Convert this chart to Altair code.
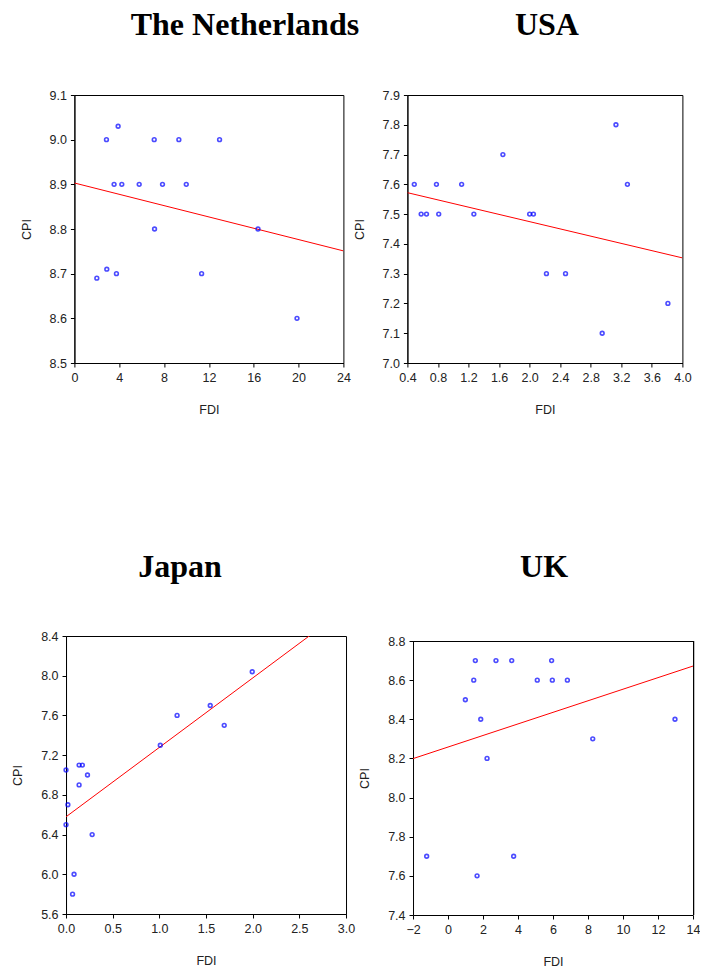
import altair as alt
import pandas as pd

# ---------------- data ----------------
nl_fdi = [2.86, 3.9, 7.12, 9.32, 12.95, 3.54, 4.23, 5.78, 7.86, 9.98, 7.15, 16.38, 2.0, 2.89, 3.75, 11.35, 19.86]
nl_cpi = [9.00, 9.03, 9.00, 9.00, 9.00, 8.90, 8.90, 8.90, 8.90, 8.90, 8.80, 8.80, 8.69, 8.71, 8.70, 8.70, 8.60]
nl_fit_fdi = [0, 24]
nl_fit_cpi = [8.903, 8.751]

us_fdi = [0.49, 0.58, 0.65, 0.78, 0.81, 1.11, 1.27, 1.65, 2.00, 2.05, 2.22, 2.47, 2.95, 3.13, 3.28, 3.81]
us_cpi = [7.6, 7.5, 7.5, 7.6, 7.5, 7.6, 7.5, 7.7, 7.5, 7.5, 7.3, 7.3, 7.1, 7.8, 7.6, 7.2]
us_fit_fdi = [0.4, 4.0]
us_fit_cpi = [7.572, 7.353]

jp_fdi = [0.0, 0.02, 0.0, 0.14, 0.175, 0.14, 0.23, 0.28, 0.086, 0.07, 1.01, 1.19, 1.545, 1.695, 1.995]
jp_cpi = [7.05, 6.70, 6.50, 7.10, 7.10, 6.90, 7.00, 6.40, 6.00, 5.80, 7.30, 7.60, 7.70, 7.50, 8.04]
jp_fit_fdi = [0.0, 3.0]
jp_fit_cpi = [6.579, 8.676]

uk_fdi = [-1.22, 0.99, 1.47, 1.56, 1.87, 1.66, 2.23, 2.74, 3.64, 3.75, 5.10, 5.92, 5.96, 6.82, 8.27, 12.97]
uk_cpi = [7.7, 8.5, 8.6, 8.7, 8.4, 7.6, 8.2, 8.7, 8.7, 7.7, 8.6, 8.7, 8.6, 8.6, 8.3, 8.4]
uk_fit_fdi = [-2, 14]
uk_fit_cpi = [8.199, 8.672]

nl_xticks = [0, 4, 8, 12, 16, 20, 24]
nl_yticks = [8.5, 8.6, 8.7, 8.8, 8.9, 9.0, 9.1]
us_xticks = [0.4, 0.8, 1.2, 1.6, 2.0, 2.4, 2.8, 3.2, 3.6, 4.0]
us_yticks = [7.0, 7.1, 7.2, 7.3, 7.4, 7.5, 7.6, 7.7, 7.8, 7.9]
jp_xticks = [0.0, 0.5, 1.0, 1.5, 2.0, 2.5, 3.0]
jp_yticks = [5.6, 6.0, 6.4, 6.8, 7.2, 7.6, 8.0, 8.4]
uk_xticks = [-2, 0, 2, 4, 6, 8, 10, 12, 14]
uk_yticks = [7.4, 7.6, 7.8, 8.0, 8.2, 8.4, 8.6, 8.8]

LABEL_FONT = "Liberation Sans"
TITLE_FONT = "Liberation Serif"
TEXT_COLOR = "#222222"


def panel(title, fdi, cpi, fit_x, fit_y, xticks, xfmt, yticks, w, h, dx, offset, top_gap=0):
    pts = pd.DataFrame({"FDI": fdi, "CPI": cpi})
    fit = pd.DataFrame({"FDI": fit_x, "CPI": fit_y})
    xs = alt.Scale(domain=[xticks[0], xticks[-1]], nice=False, zero=False)
    if top_gap:
        ys = alt.Scale(domain=[yticks[0], yticks[-1]], nice=False, zero=False, range=[h, top_gap])
    else:
        ys = alt.Scale(domain=[yticks[0], yticks[-1]], nice=False, zero=False)
    xax = alt.Axis(values=xticks, tickCount=len(xticks), format=xfmt, title="FDI",
                   titlePadding=20, labelOverlap=False)
    yax = alt.Axis(values=yticks, tickCount=len(yticks), format=".1f", title="CPI",
                   titlePadding=16, labelOverlap=False)
    points = alt.Chart(pts).mark_point(
        shape="circle", filled=False, color="#0000FF", size=14, strokeWidth=1.6
    ).encode(x=alt.X("FDI:Q", scale=xs, axis=xax), y=alt.Y("CPI:Q", scale=ys, axis=yax))
    line = alt.Chart(fit).mark_line(color="#FF0000", strokeWidth=1, clip=True).encode(
        x=alt.X("FDI:Q", scale=xs), y=alt.Y("CPI:Q", scale=ys)
    )
    layers = [line, points]
    props = dict(
        width=w,
        height=h,
        title=alt.TitleParams(
            title, font=TITLE_FONT, fontSize=32, fontWeight="bold", color="black",
            anchor="middle", frame="group", dx=dx, offset=offset, baseline="alphabetic",
        ),
    )
    if top_gap:
        # plot box edges drawn at the data extent (top edge and right edge)
        top_rule = alt.Chart(pts).mark_rule(color="black", strokeWidth=1, yOffset=0.5).encode(
            y=alt.Y(datum=yticks[-1], scale=ys),
            x=alt.X(datum=xticks[0], scale=xs),
            x2=alt.datum(xticks[-1]),
        )
        right_rule = alt.Chart(pts).mark_rule(color="black", strokeWidth=1, xOffset=0.5).encode(
            x=alt.X(datum=xticks[-1], scale=xs),
            y=alt.Y(datum=yticks[0], scale=ys),
            y2=alt.datum(yticks[-1]),
        )
        layers = [top_rule, right_rule, line, points]
        props["view"] = alt.ViewBackground(strokeOpacity=0)
    return alt.layer(*layers).properties(**props)


nl = panel("The Netherlands", nl_fdi, nl_cpi, nl_fit_fdi, nl_fit_cpi, nl_xticks, "d", nl_yticks, 269, 268, 36, 22)
us = panel("USA", us_fdi, us_cpi, us_fit_fdi, us_fit_cpi, us_xticks, ".1f", us_yticks, 275, 268, 2, 22)
jp = panel("Japan", jp_fdi, jp_cpi, jp_fit_fdi, jp_fit_cpi, jp_xticks, ".1f", jp_yticks, 280, 278, -26, 21)
uk = panel("UK", uk_fdi, uk_cpi, uk_fit_fdi, uk_fit_cpi, uk_xticks, "d", uk_yticks, 280, 279, -9, 26, top_gap=5)

row1 = alt.hconcat(nl, us, spacing=-8)
row2 = alt.hconcat(jp, uk, spacing=2)

chart = alt.vconcat(row1, row2, spacing=133, center=True).properties(
    padding={"left": 11, "top": 8, "right": 0, "bottom": 0},
    background="white",
).configure_view(stroke="black", strokeWidth=1).configure_axis(
    grid=False,
    domainColor="black",
    tickColor="black",
    tickSize=4,
    labelFont=LABEL_FONT,
    labelFontSize=12.5,
    labelColor=TEXT_COLOR,
    labelPadding=4,
    titleFont=LABEL_FONT,
    titleFontSize=12.5,
    titleFontWeight="normal",
    titleColor=TEXT_COLOR,
).configure_axisX(labelFlush=False).configure_axisY(labelFlush=False)

chart.save("out.html", embed_options={"renderer": "svg", "actions": False})
